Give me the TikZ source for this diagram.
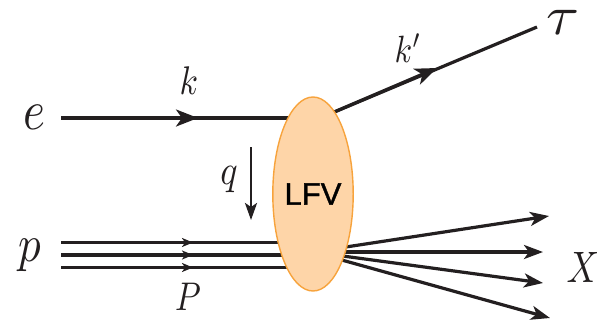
\documentclass[tikz,border=0pt]{standalone}
\usepackage{graphicx}
\usepackage{fontspec}
\newfontfamily\lfvfont[FakeBold=1.2]{Liberation Sans}
\usetikzlibrary{arrows.meta,shapes.geometric}
\definecolor{lineblk}{RGB}{35,31,32}
\definecolor{blobfill}{RGB}{254,213,168}
\definecolor{blobedge}{RGB}{247,163,60}
\tikzset{
  prt/.style={draw=lineblk, line width=3.2pt},
  bigtip/.style={-{Stealth[length=22pt,width=17pt,inset=6pt]}},
  smalltip/.style={-{Stealth[length=11pt,width=9pt,inset=3pt]}},
  xtip/.style={-{Stealth[length=19pt,width=14pt,inset=5pt]}},
  qtip/.style={-{Stealth[length=17pt,width=12pt,inset=4pt]}},
  lbl/.style={inner sep=0pt, text=lineblk},
  blob/.style={ellipse, draw=blobedge, line width=1.4pt, fill=blobfill,
    minimum width=67pt, minimum height=194pt, inner sep=0pt}
}
\begin{document}
\begin{tikzpicture}[x=1pt,y=-1pt]
\useasboundingbox (0,0) rectangle (597,322);
% coordinates
\coordinate (eS) at (61,118);
\coordinate (eA) at (198,118);
\coordinate (vE) at (313,118);
\coordinate (vT) at (313,121);
\coordinate (tA) at (437,68);
\coordinate (tE) at (537,27);
\coordinate (qS) at (251,147);
\coordinate (qE) at (251,220);
\coordinate (p1S) at (61,242.5);
\coordinate (p2S) at (61,255);
\coordinate (p3S) at (61,267.5);
\coordinate (p1A) at (193,242.5);
\coordinate (p2A) at (193,255);
\coordinate (p3A) at (193,267.5);
\coordinate (p1E) at (313,242.5);
\coordinate (p2E) at (313,255);
\coordinate (p3E) at (313,267.5);
\coordinate (vX) at (313,252);
\coordinate (x1) at (549,216);
\coordinate (x2) at (543,252);
\coordinate (x3) at (543,283);
\coordinate (x4) at (550,318);
% electron
\draw[prt] (eS) -- (vE);
\draw[prt,bigtip] (eS) -- (eA);
% tau
\draw[prt] (vT) -- (tE);
\draw[prt,bigtip] (vT) -- (tA);
% photon momentum
\draw[prt,qtip,line width=2.6pt] (qS) -- (qE);
% proton
\draw[prt] (p1S) -- (p1E);
\draw[prt] (p2S) -- (p2E);
\draw[prt] (p3S) -- (p3E);
\draw[prt,smalltip] (p1S) -- (p1A);
\draw[prt,smalltip] (p2S) -- (p2A);
\draw[prt,smalltip] (p3S) -- (p3A);
% hadronic final state
\draw[prt,xtip] (vX) -- (x1);
\draw[prt,xtip] (vX) -- (x2);
\draw[prt,xtip] (vX) -- (x3);
\draw[prt,xtip] (vX) -- (x4);
% blob
\node[blob] (lfv) at (313,194) {\lfvfont\fontsize{31}{31}\selectfont LFV};
% labels
\node[lbl] (le) at (34,117) {\scalebox{4.7}[5.64]{$e$}};
\node[lbl] (lk) at (189,81) {\scalebox{3.36}[4.0]{$k$}};
\node[lbl] (lkp) at (408,48) {\scalebox{3.2}[3.8]{$k'$}};
\node[lbl] (ltau) at (563,22) {\scalebox{6.0}[5.6]{$\tau$}};
\node[lbl] (lq) at (229,180) {\scalebox{3.6}[4.2]{$q$}};
\node[lbl] (lp) at (30,255) {\scalebox{4.5}[5.2]{$p$}};
\node[lbl] (lP) at (188,297) {\scalebox{3.3}[4.0]{$P$}};
\node[lbl] (lX) at (583,267) {\scalebox{3.6}[4.4]{$X$}};
\end{tikzpicture}
\end{document}
